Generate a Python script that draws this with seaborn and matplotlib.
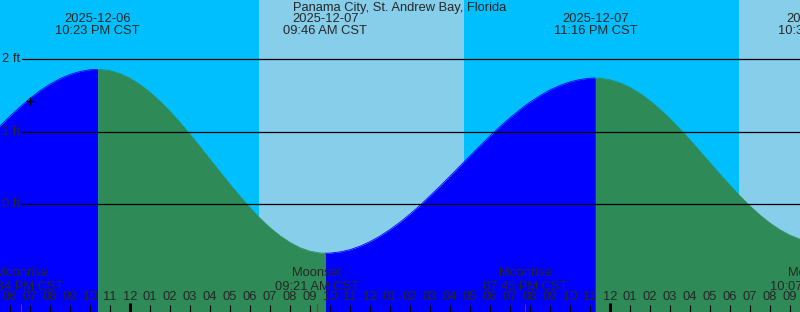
import numpy as np
import pandas as pd
import matplotlib
matplotlib.use("Agg")
import matplotlib.pyplot as plt
import seaborn as sns

# ---- data (hours relative to midnight starting 2025-12-07, CST) ----
title = "Panama City, St. Andrew Bay, Florida"

tide_hours = [-7.5, -7, -6.5, -6, -5.5, -5, -4.5, -4, -3.5, -3, -2.5, -2,
              -1.617, -1.5, -1, -0.5, 0, 0.5, 1, 1.5, 2, 2.5, 3, 3.5, 4, 4.5,
              5, 5.5, 6, 6.5, 7, 7.5, 8, 8.5, 9, 9.5,
              9.767, 10, 10.5, 11, 11.5, 12, 12.5, 13, 13.5, 14, 14.5, 15,
              15.5, 16, 16.5, 17, 17.5, 18, 18.5, 19, 19.5, 20, 20.5, 21,
              21.5, 22, 22.5, 23,
              23.267, 23.5, 24, 24.5, 25, 25.5, 26, 26.5, 27, 27.5, 28, 28.5,
              29, 29.5, 30, 30.5, 31, 31.5, 32, 32.5, 33, 33.5, 34, 34.5]
tide_feet = [0.781, 0.931, 1.076, 1.214, 1.341, 1.460, 1.565, 1.656, 1.731,
             1.790, 1.831, 1.855,
             1.860, 1.859, 1.842, 1.800, 1.736, 1.649, 1.543, 1.418, 1.278,
             1.125, 0.961, 0.791, 0.616, 0.441, 0.270, 0.104, -0.053, -0.199,
             -0.327, -0.439, -0.532, -0.604, -0.652, -0.677,
             -0.680, -0.678, -0.662, -0.631, -0.583, -0.520, -0.443, -0.353,
             -0.252, -0.139, -0.018, 0.113, 0.246, 0.385, 0.525, 0.666, 0.804,
             0.939, 1.069, 1.191, 1.305, 1.407, 1.497, 1.577, 1.638, 1.687,
             1.720, 1.738,
             1.740, 1.738, 1.716, 1.673, 1.609, 1.526, 1.424, 1.307, 1.176,
             1.035, 0.883, 0.726, 0.568, 0.410, 0.256, 0.109, -0.028, -0.154,
             -0.264, -0.357, -0.431, -0.486, -0.519, -0.530]

ext_hours = [-1.617, 9.767, 23.267, 34.5]
ext_dates = ["2025-12-06", "2025-12-07", "2025-12-07", "2025-12-08"]
ext_times = ["10:23 PM CST", "09:46 AM CST", "11:16 PM CST", "10:30 AM CST"]

moon_hours = [-5.433, 9.35, 19.75, 34.117]
moon_names = ["Moonrise", "Moonset", "Moonrise", "Moonset"]
moon_times = ["06:34 PM CST", "09:21 AM CST", "07:45 PM CST", "10:07 AM CST"]

day_start = [6.45, 30.45]
day_end = [16.7, 40.0]

level_ticks = [0, 1, 2]
level_labels = ["0 ft", "1 ft", "2 ft"]

hour_ticks = list(range(-7, 35))
now_hour, now_feet = -5.0, 1.416

NIGHT = "#00BFFF"
DAY = "#87CEEB"
RISE = "#0000FF"
FALL = "#2E8B57"

sns.set_style("white")
plt.rcParams["font.family"] = ["Liberation Sans", "DejaVu Sans"]
FS = 9.3

fig = plt.figure(figsize=(8, 3.12), dpi=100)
ax = fig.add_axes([0, 0, 1, 1])
ax.set_xlim(-6.5, 33.5)
ax.set_ylim(-1.492, 2.818)
ax.axis("off")
ax.add_patch(plt.Rectangle((0, 0), 1, 1, transform=ax.transAxes,
                           color=NIGHT, zorder=0))
for s, e in zip(day_start, day_end):
    ax.axvspan(s, e, color=DAY, lw=0, zorder=0.5)

df = pd.DataFrame({"hour": tide_hours, "feet": tide_feet})
bounds = [-100] + ext_hours
ybot = -1.492
for a, b in zip(bounds[:-1], bounds[1:]):
    seg = df[(df.hour >= a) & (df.hour <= b)]
    if len(seg) < 2:
        continue
    col = RISE if seg.feet.iloc[-1] > seg.feet.iloc[0] else FALL
    ax.fill_between(seg.hour, seg.feet, ybot, color=col, lw=0, zorder=1)
    sns.lineplot(data=seg, x="hour", y="feet", color=col, lw=0.6, ax=ax,
                 zorder=1.1, legend=False)

for lv, lb in zip(level_ticks, level_labels):
    ax.axhline(lv, xmin=22 / 800, xmax=1, color="black", lw=0.9, zorder=2)
    ax.text(2 / 800, lv, lb, transform=ax.get_yaxis_transform(),
            ha="left", va="center", fontsize=FS, zorder=3)

ax.plot([now_hour], [now_feet], marker="+", color="black", ms=6, mew=0.9,
        zorder=3)

ax.text(0.5, 1 - 7.5 / 312, title, transform=ax.transAxes, ha="center",
        va="center", fontsize=FS, zorder=3)
xt = ax.get_xaxis_transform()
for h, d, t in zip(ext_hours, ext_dates, ext_times):
    ax.text(h, 1 - 19.5 / 312, d, transform=xt, ha="center", va="center",
            fontsize=FS, zorder=3, clip_on=False)
    ax.text(h, 1 - 31.5 / 312, t, transform=xt, ha="center", va="center",
            fontsize=FS, zorder=3, clip_on=False)

for h, n, t in zip(moon_hours, moon_names, moon_times):
    ax.text(h, 1 - 273.5 / 312, n, transform=xt, ha="center", va="center",
            fontsize=FS, zorder=3)
    ax.text(h, 1 - 286.5 / 312, t, transform=xt, ha="center", va="center",
            fontsize=FS, zorder=3)
    ax.vlines(h, 0, 8 / 312, transform=xt, color="red", lw=0.8, zorder=3)

for h in hour_ticks:
    hr = (h + 24) % 12
    lab = "%02d" % (12 if hr == 0 else hr)
    ax.text(h, 1 - 297.5 / 312, lab, transform=xt, ha="center", va="center",
            fontsize=FS, zorder=3)
    if h % 24 == 0:
        ax.vlines(h, 0, 9 / 312, transform=xt, color="black", lw=2.2, zorder=3)
    else:
        ax.vlines(h, 0, 7.5 / 312, transform=xt, color="black", lw=0.8,
                  zorder=3)

fig.savefig("out.png", dpi=100)
